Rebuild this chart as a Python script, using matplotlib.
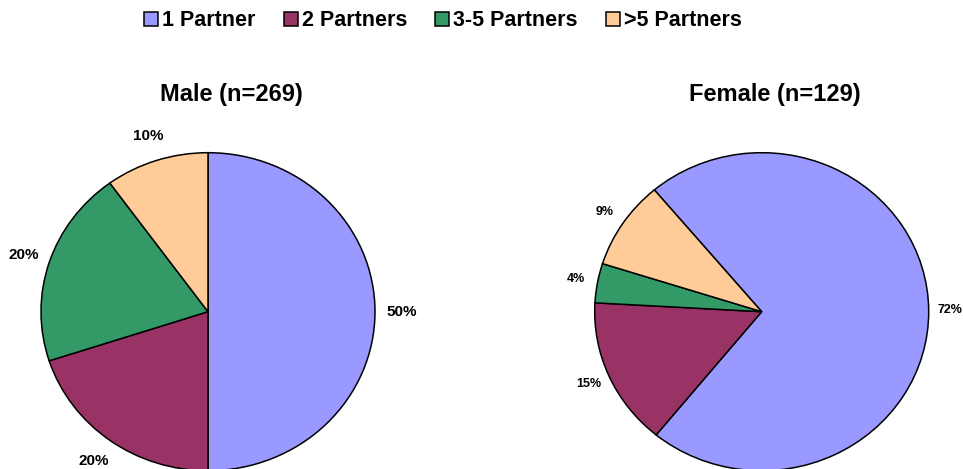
import numpy as np
import matplotlib
matplotlib.use("Agg")
import matplotlib.pyplot as plt

plt.rcParams['font.family'] = ['Liberation Sans', 'DejaVu Sans']

categories = ["1 Partner", "2 Partners", "3-5 Partners", ">5 Partners"]
male = [50, 20, 20, 10]
female = [72, 15, 4, 9]
titles = ["Male (n=269)", "Female (n=129)"]
colors = ["#9999FF", "#993366", "#339966", "#FFCC99"]

W, H = 963, 469
fig = plt.figure(figsize=(W / 100, H / 100), dpi=100)

# pie boxes in pixels: (centre x, centre y from top), rx=167, ry=159
def pie_axes(cx, cy, rx=167, ry=159):
    return fig.add_axes([(cx - rx) / W, (H - cy - ry) / H, 2 * rx / W, 2 * ry / H])

ax1 = pie_axes(208, 311.7)
ax2 = pie_axes(761.7, 311.7)

wp = dict(edgecolor="black", linewidth=1.1, clip_on=False)

w1, t1, a1 = ax1.pie(male, colors=colors, startangle=90, counterclock=False,
                     autopct="%.0f%%", pctdistance=1.16, wedgeprops=wp,
                     textprops=dict(fontsize=11, fontweight="bold"))
w2, t2, a2 = ax2.pie(female, colors=colors, startangle=130, counterclock=False,
                     autopct="%.0f%%", pctdistance=1.13, wedgeprops=wp,
                     textprops=dict(fontsize=9, fontweight="bold"))

for ax in (ax1, ax2):
    ax.set_aspect("auto")
    ax.set_xlim(-1, 1)
    ax.set_ylim(-1, 1)
    ax.axis("off")

for t in list(a1) + list(a2):
    t.set_clip_on(False)

fig.text(231 / W, 1 - 95 / H, titles[0], ha="center", va="center",
         fontsize=17, fontweight="bold")
fig.text(775 / W, 1 - 95 / H, titles[1], ha="center", va="center",
         fontsize=17, fontweight="bold")

fig.legend(w1, categories, loc="center", bbox_to_anchor=(443 / W, 1 - 21 / H),
           ncol=4, frameon=False, prop=dict(size=15.5, weight="bold"),
           handlelength=0.65, handleheight=0.65, handletextpad=0.2,
           columnspacing=1.3, borderaxespad=0)

plt.savefig("out.png", dpi=100)
plt.close()
